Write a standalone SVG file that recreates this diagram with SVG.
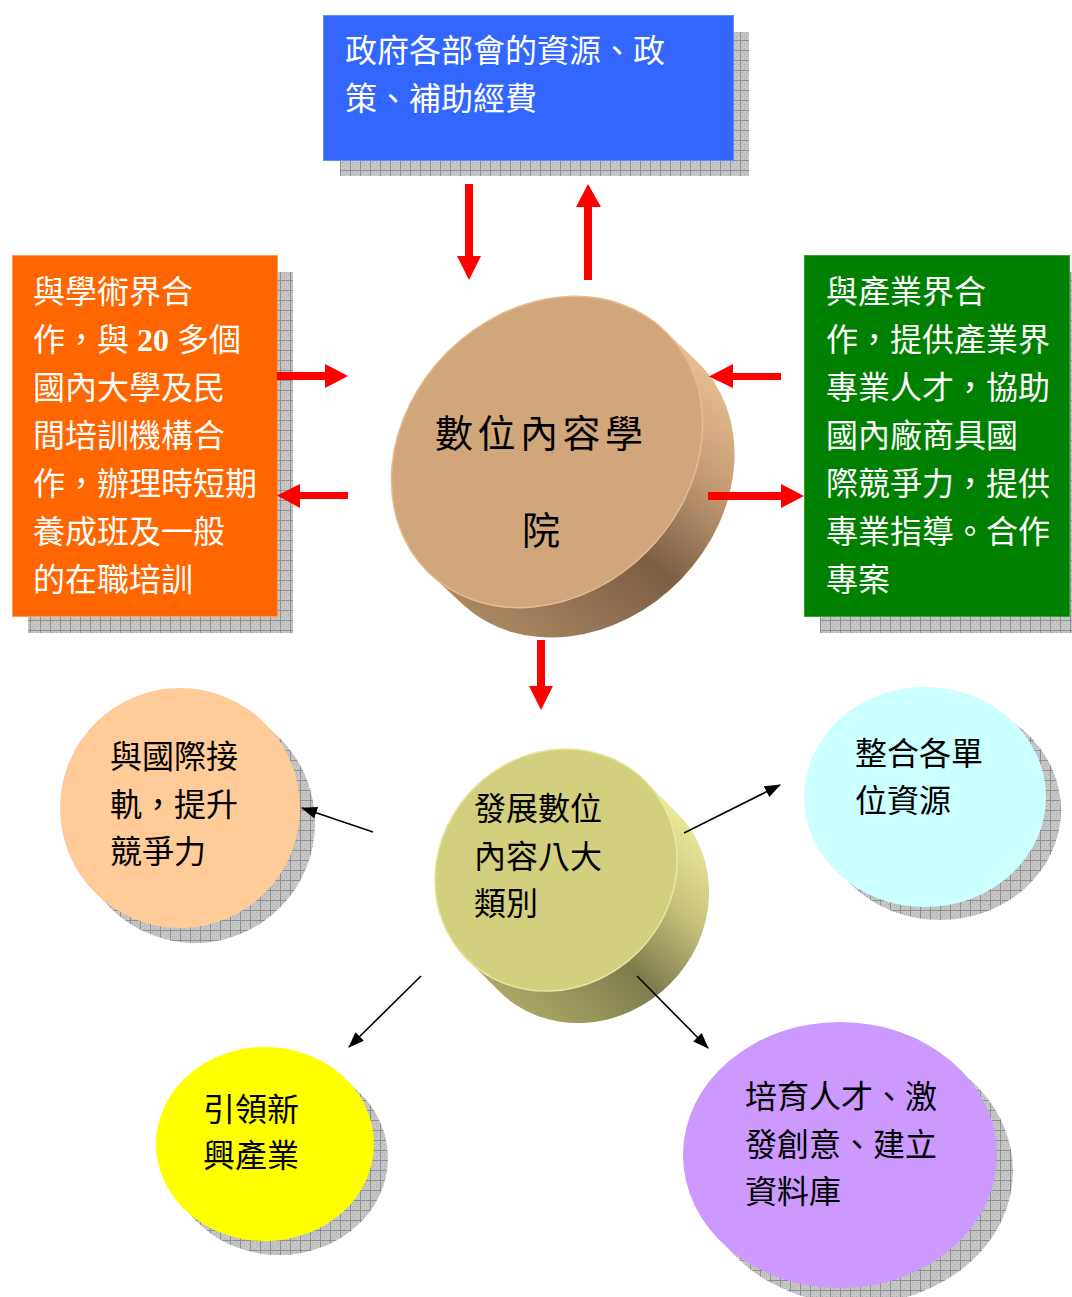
<svg xmlns="http://www.w3.org/2000/svg" width="1072" height="1297" viewBox="0 0 1072 1297">
<style>
.wt{font-family:"Noto Sans CJK TC","Noto Sans CJK SC",sans-serif;font-size:32px;fill:#FFFFFF}
.bt{font-family:"Noto Sans CJK TC","Noto Sans CJK SC",sans-serif;font-size:32px;fill:#000000}
.num{font-family:"Liberation Serif",serif;font-weight:bold}
.shadow{fill:url(#grid)}
.red{fill:#FF0000}
.blk{stroke:#000;stroke-width:1.6;fill:none;marker-end:url(#ah)}
</style>
<defs>
<pattern id="grid" width="10" height="10" patternUnits="userSpaceOnUse">
<rect width="10" height="10" fill="#C6C6C6"/>
<rect x="2" y="2" width="1" height="1" fill="#A8A8A8"/>
<rect x="4" y="4" width="1" height="1" fill="#A8A8A8"/>
<rect x="6" y="2" width="1" height="1" fill="#A8A8A8"/>
<rect x="2" y="6" width="1" height="1" fill="#A8A8A8"/>
<rect x="6" y="6" width="1" height="1" fill="#A8A8A8"/>
<rect x="8" y="4" width="1" height="1" fill="#A8A8A8"/>
<rect x="4" y="8" width="1" height="1" fill="#A8A8A8"/>
<path d="M0,0.5H10M0.5,0V10" stroke="#8E8E8E" stroke-width="1"/>
</pattern>
<linearGradient id="sideTan" gradientUnits="userSpaceOnUse" x1="700" y1="330" x2="460" y2="620">
<stop offset="0" stop-color="#F2C898"/>
<stop offset="0.3" stop-color="#C29A72"/>
<stop offset="0.56" stop-color="#7A5F45"/>
<stop offset="1" stop-color="#B08A64"/>
</linearGradient>
<linearGradient id="sideYel" gradientUnits="userSpaceOnUse" x1="690" y1="800" x2="500" y2="1010">
<stop offset="0" stop-color="#F4F0A0"/>
<stop offset="0.3" stop-color="#C8C47C"/>
<stop offset="0.58" stop-color="#7E7C4C"/>
<stop offset="1" stop-color="#B0AC68"/>
</linearGradient>
<marker id="ah" viewBox="0 0 16 12" refX="15" refY="6" markerWidth="16" markerHeight="12" markerUnits="userSpaceOnUse" orient="auto">
<path d="M0,0L16,6L0,12Z" fill="#000"/>
</marker>
</defs>
<rect width="1072" height="1297" fill="#FFFFFF"/>

<g id="node-gov">
<rect class="shadow" x="340" y="32" width="409" height="144"/>
<rect x="323.5" y="15.5" width="410" height="145" fill="#3366FF" stroke="#6688FF" stroke-width="1"/>
<text class="wt" x="345" y="62">政府各部會的資源、政</text>
<text class="wt" x="345" y="110">策、補助經費</text>
</g>

<g id="node-academia">
<rect class="shadow" x="28" y="272" width="265" height="361"/>
<rect x="12.5" y="255.5" width="265" height="361" fill="#FF6600" stroke="#FF9955" stroke-width="1"/>
<text class="wt" x="33" y="303">與學術界合</text>
<text class="wt" x="33" y="351">作，與<tspan class="num"> 20 </tspan>多個</text>
<text class="wt" x="33" y="399">國內大學及民</text>
<text class="wt" x="33" y="447">間培訓機構合</text>
<text class="wt" x="33" y="495">作，辦理時短期</text>
<text class="wt" x="33" y="543">養成班及一般</text>
<text class="wt" x="33" y="591">的在職培訓</text>
</g>

<g id="node-industry">
<rect class="shadow" x="820" y="272" width="252" height="361"/>
<rect x="804.5" y="255.5" width="265" height="361" fill="#008000" stroke="#33A033" stroke-width="1"/>
<text class="wt" x="826" y="303">與產業界合</text>
<text class="wt" x="826" y="351">作，提供產業界</text>
<text class="wt" x="826" y="399">專業人才，協助</text>
<text class="wt" x="826" y="447">國內廠商具國</text>
<text class="wt" x="826" y="495">際競爭力，提供</text>
<text class="wt" x="826" y="543">專業指導。合作</text>
<text class="wt" x="826" y="591">專案</text>
</g>

<g id="node-academy">
<path d="M663.7,329.9L695.7,359.9A169,141 -45 0 1 681.8,578.5A169,141 -45 0 1 462.3,604.1L430.3,574.1Z" fill="url(#sideTan)"/>
<ellipse cx="0" cy="0" rx="169" ry="141" transform="translate(547,452) rotate(-45)" fill="#D1A67A" stroke="#E6BC8E" stroke-width="1.5"/>
<text class="bt" x="435" y="447" style="font-size:38px;letter-spacing:4.5px">數位內容學</text>
<text class="bt" x="522" y="544" style="font-size:38px">院</text>
</g>

<g id="node-categories">
<path d="M645.1,780.9L677.1,812.9A126,116 -45 0 1 670,984A126,116 -45 0 1 498.9,991.1L466.9,959.1Z" fill="url(#sideYel)"/>
<ellipse cx="0" cy="0" rx="126" ry="116" transform="translate(556,870) rotate(-45)" fill="#D2CF7E" stroke="#E8E6A4" stroke-width="1.5"/>
<text class="bt" x="474" y="820">發展數位</text>
<text class="bt" x="474" y="868">內容八大</text>
<text class="bt" x="474" y="915">類別</text>
</g>

<g id="node-international">
<circle class="shadow" cx="195" cy="823" r="120"/>
<circle cx="180" cy="808" r="120" fill="#FFCC99"/>
<text class="bt" x="110" y="768">與國際接</text>
<text class="bt" x="110" y="816">軌，提升</text>
<text class="bt" x="110" y="863">競爭力</text>
</g>

<g id="node-integrate">
<ellipse class="shadow" cx="940" cy="810" rx="121" ry="110"/>
<ellipse cx="925" cy="797" rx="121" ry="110" fill="#CCFFFF"/>
<text class="bt" x="855" y="765">整合各單</text>
<text class="bt" x="855" y="812">位資源</text>
</g>

<g id="node-emerging">
<ellipse class="shadow" cx="279" cy="1158" rx="109" ry="97"/>
<ellipse cx="265" cy="1144" rx="109" ry="97" fill="#FFFF00"/>
<text class="bt" x="203" y="1121">引領新</text>
<text class="bt" x="203" y="1167">興產業</text>
</g>

<g id="node-talent">
<ellipse class="shadow" cx="856" cy="1171" rx="157" ry="133"/>
<ellipse cx="840" cy="1155" rx="157" ry="133" fill="#CC99FF"/>
<text class="bt" x="745" y="1108">培育人才、激</text>
<text class="bt" x="745" y="1156">發創意、建立</text>
<text class="bt" x="745" y="1203">資料庫</text>
</g>

<g id="connectors">
<path class="red" d="M465,184H473V256H481L469,280L457,256H465Z"/>
<path class="red" d="M584,280H592V207H601L588,184L576,207H584Z"/>
<path class="red" d="M277,372V380H325V388L348,376L325,364V372Z"/>
<path class="red" d="M348,492V499H300V508L277,495.5L300,484V492Z"/>
<path class="red" d="M781,373V380H733V388L709,376.5L733,364V373Z"/>
<path class="red" d="M708,492V500H781V508L804,496L781,484V492Z"/>
<path class="red" d="M537,640H545V686H553L541,710L529,686H537Z"/>
<line class="blk" x1="373" y1="832" x2="302" y2="808"/>
<line class="blk" x1="684" y1="833" x2="780" y2="785"/>
<line class="blk" x1="421" y1="976" x2="349" y2="1047"/>
<line class="blk" x1="637" y1="976" x2="708" y2="1048"/>
</g>
</svg>
